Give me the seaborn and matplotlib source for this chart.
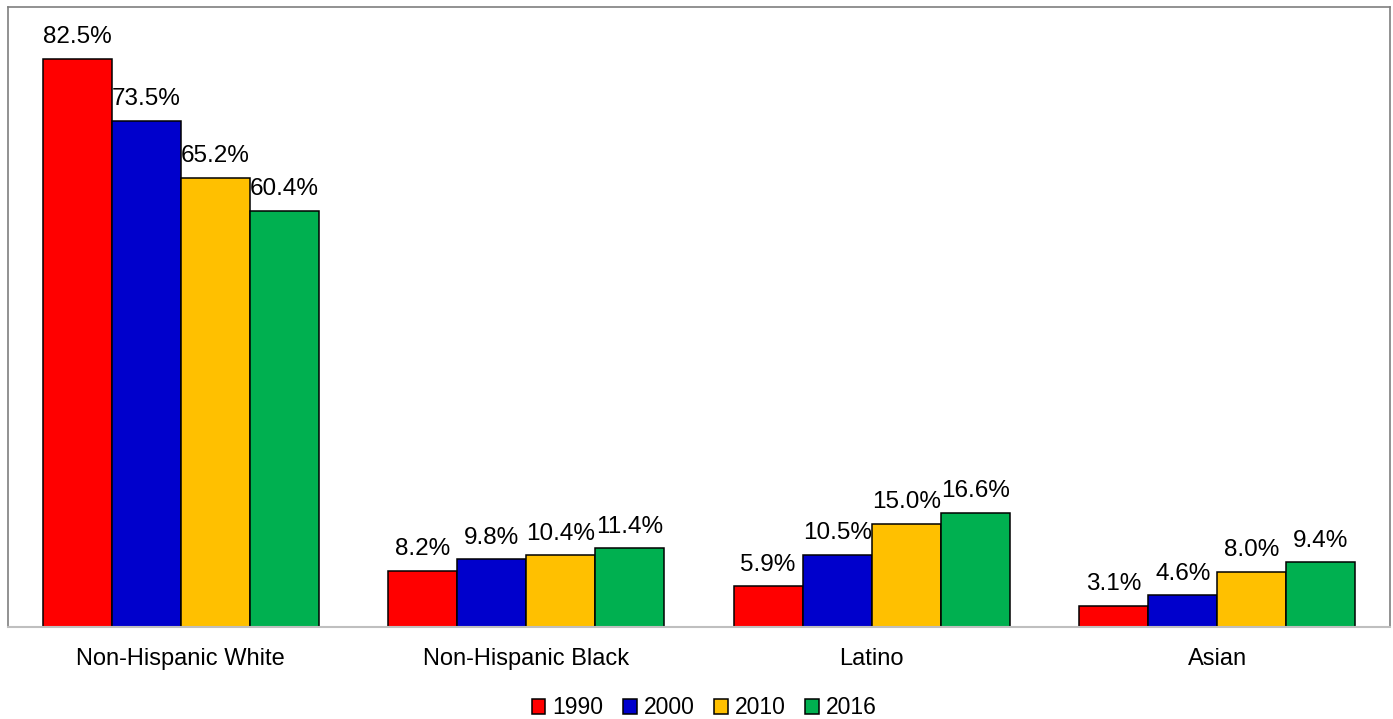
import matplotlib
matplotlib.use("Agg")
import matplotlib.pyplot as plt
import seaborn as sns
import pandas as pd

# Population share by race/ethnicity across census years
groups = ["Non-Hispanic White", "Non-Hispanic Black", "Latino", "Asian"]
years = ["1990", "2000", "2010", "2016"]
share_1990 = [82.5, 8.2, 5.9, 3.1]
share_2000 = [73.5, 9.8, 10.5, 4.6]
share_2010 = [65.2, 10.4, 15.0, 8.0]
share_2016 = [60.4, 11.4, 16.6, 9.4]
year_colors = ["#FF0000", "#0000CC", "#FFC000", "#00B050"]

series = [share_1990, share_2000, share_2010, share_2016]
df = pd.DataFrame(
    [(g, y, v) for y, vals in zip(years, series) for g, v in zip(groups, vals)],
    columns=["group", "year", "share"],
)

sns.set_theme(style="white")
plt.rcParams["font.family"] = ["Liberation Sans", "DejaVu Sans"]
plt.rcParams["text.color"] = "black"

fig = plt.figure(figsize=(13.93, 7.19), dpi=100)
ax = fig.add_axes([8 / 1393, (719 - 627) / 719, 1382 / 1393, 620 / 719])

sns.barplot(
    data=df, x="group", y="share", hue="year", order=groups, hue_order=years,
    palette=year_colors, width=0.8, gap=0, edgecolor="black", linewidth=1.1,
    saturation=1, ax=ax,
)

for container in ax.containers:
    ax.bar_label(container, fmt="%.1f%%", padding=7.5, fontsize=17.5, color="black")

ax.set_xlim(-0.5, 3.5)
ax.set_ylim(0, 90)
ax.set_xlabel("")
ax.set_ylabel("")
ax.set_yticks([])
ax.tick_params(axis="x", length=0, labelsize=17, pad=15, colors="black")

for side in ["left", "top", "right"]:
    ax.spines[side].set_color("#7F7F7F")
    ax.spines[side].set_linewidth(1.2)
ax.spines["bottom"].set_color("#BFBFBF")
ax.spines["bottom"].set_linewidth(1.5)

ax.legend_.remove()
handles, labels = ax.get_legend_handles_labels()
leg = fig.legend(
    handles, labels, loc="center", bbox_to_anchor=(704 / 1393, 11 / 719),
    ncol=4, frameon=False, fontsize=16.5, labelcolor="black",
    handlelength=0.6, handleheight=0.6,
    handletextpad=0.3, columnspacing=0.85, borderaxespad=0, borderpad=0,
)
for h in leg.legend_handles:
    h.set_edgecolor("black")
    h.set_linewidth(1.1)

fig.savefig("out.png", dpi=100)
